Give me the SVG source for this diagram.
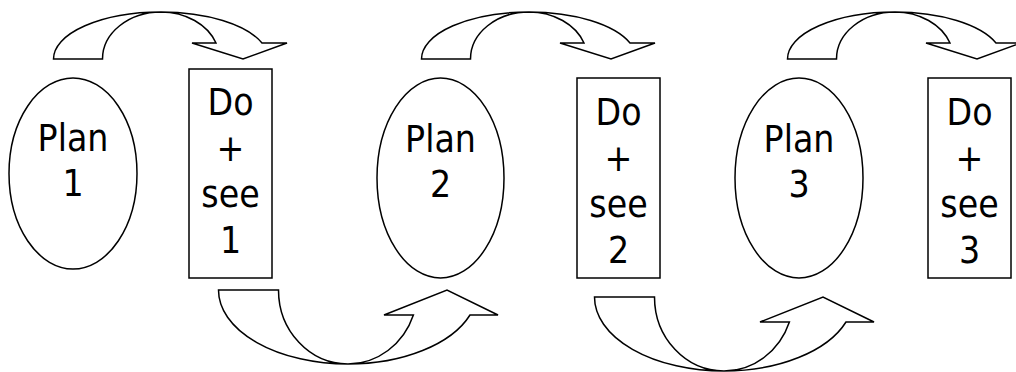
<svg xmlns="http://www.w3.org/2000/svg" width="1016" height="372" viewBox="0 0 1016 372">
<style>
.shape{fill:#fff;stroke:#000;stroke-width:1.5}
.arrow{fill:#fff;stroke:#000;stroke-width:1.5;stroke-linejoin:miter}
.lbl{font-family:"DejaVu Sans Condensed","DejaVu Sans",sans-serif;font-size:37px;fill:#000;text-anchor:middle}
</style>
<defs>
<path id="topArrow" d="M53.5,59 A107.5,47 0 0 1 161,12 A107.5,47 0 0 1 262,43 L287,43 L243,59 L192,43 L216,43 A58.5,47 0 0 0 161,12 A58.5,47 0 0 0 102.5,59 Z"/>
<path id="botArrow" d="M218.5,290 A129.5,74 0 0 0 348,364 A129.5,74 0 0 0 470,315 L498,315 L447,290 L384,315 L413.4,315 A69.5,74 0 0 1 348,364 A69.5,74 0 0 1 278.5,290 Z"/>
</defs>
<rect width="1016" height="372" fill="#fff"/>
<g id="connectors">
<use href="#topArrow" class="arrow"/>
<use href="#topArrow" class="arrow" transform="translate(368,0)"/>
<use href="#topArrow" class="arrow" transform="translate(734,0)"/>
<use href="#botArrow" class="arrow"/>
<use href="#botArrow" class="arrow" transform="translate(376,7)"/>
</g>
<g id="plan1">
<ellipse class="shape" cx="73" cy="173.5" rx="64" ry="95.5"/>
<text class="lbl" x="73" y="151">Plan</text>
<text class="lbl" x="73" y="196">1</text>
</g>
<g id="dosee1">
<rect class="shape" x="189" y="69" width="83" height="209"/>
<text class="lbl" x="230.5" y="115">Do</text>
<text class="lbl" x="230.5" y="161">+</text>
<text class="lbl" x="230.5" y="207">see</text>
<text class="lbl" x="230.5" y="253">1</text>
</g>
<g id="plan2">
<ellipse class="shape" cx="440.5" cy="178" rx="63.5" ry="100"/>
<text class="lbl" x="440.5" y="152">Plan</text>
<text class="lbl" x="440.5" y="197">2</text>
</g>
<g id="dosee2">
<rect class="shape" x="577" y="78" width="83" height="200"/>
<text class="lbl" x="618.5" y="125">Do</text>
<text class="lbl" x="618.5" y="171">+</text>
<text class="lbl" x="618.5" y="217">see</text>
<text class="lbl" x="618.5" y="263">2</text>
</g>
<g id="plan3">
<ellipse class="shape" cx="799" cy="178" rx="64" ry="100"/>
<text class="lbl" x="799" y="152">Plan</text>
<text class="lbl" x="799" y="197">3</text>
</g>
<g id="dosee3">
<rect class="shape" x="928" y="78" width="83" height="200"/>
<text class="lbl" x="969.5" y="125">Do</text>
<text class="lbl" x="969.5" y="171">+</text>
<text class="lbl" x="969.5" y="217">see</text>
<text class="lbl" x="969.5" y="263">3</text>
</g>
</svg>
